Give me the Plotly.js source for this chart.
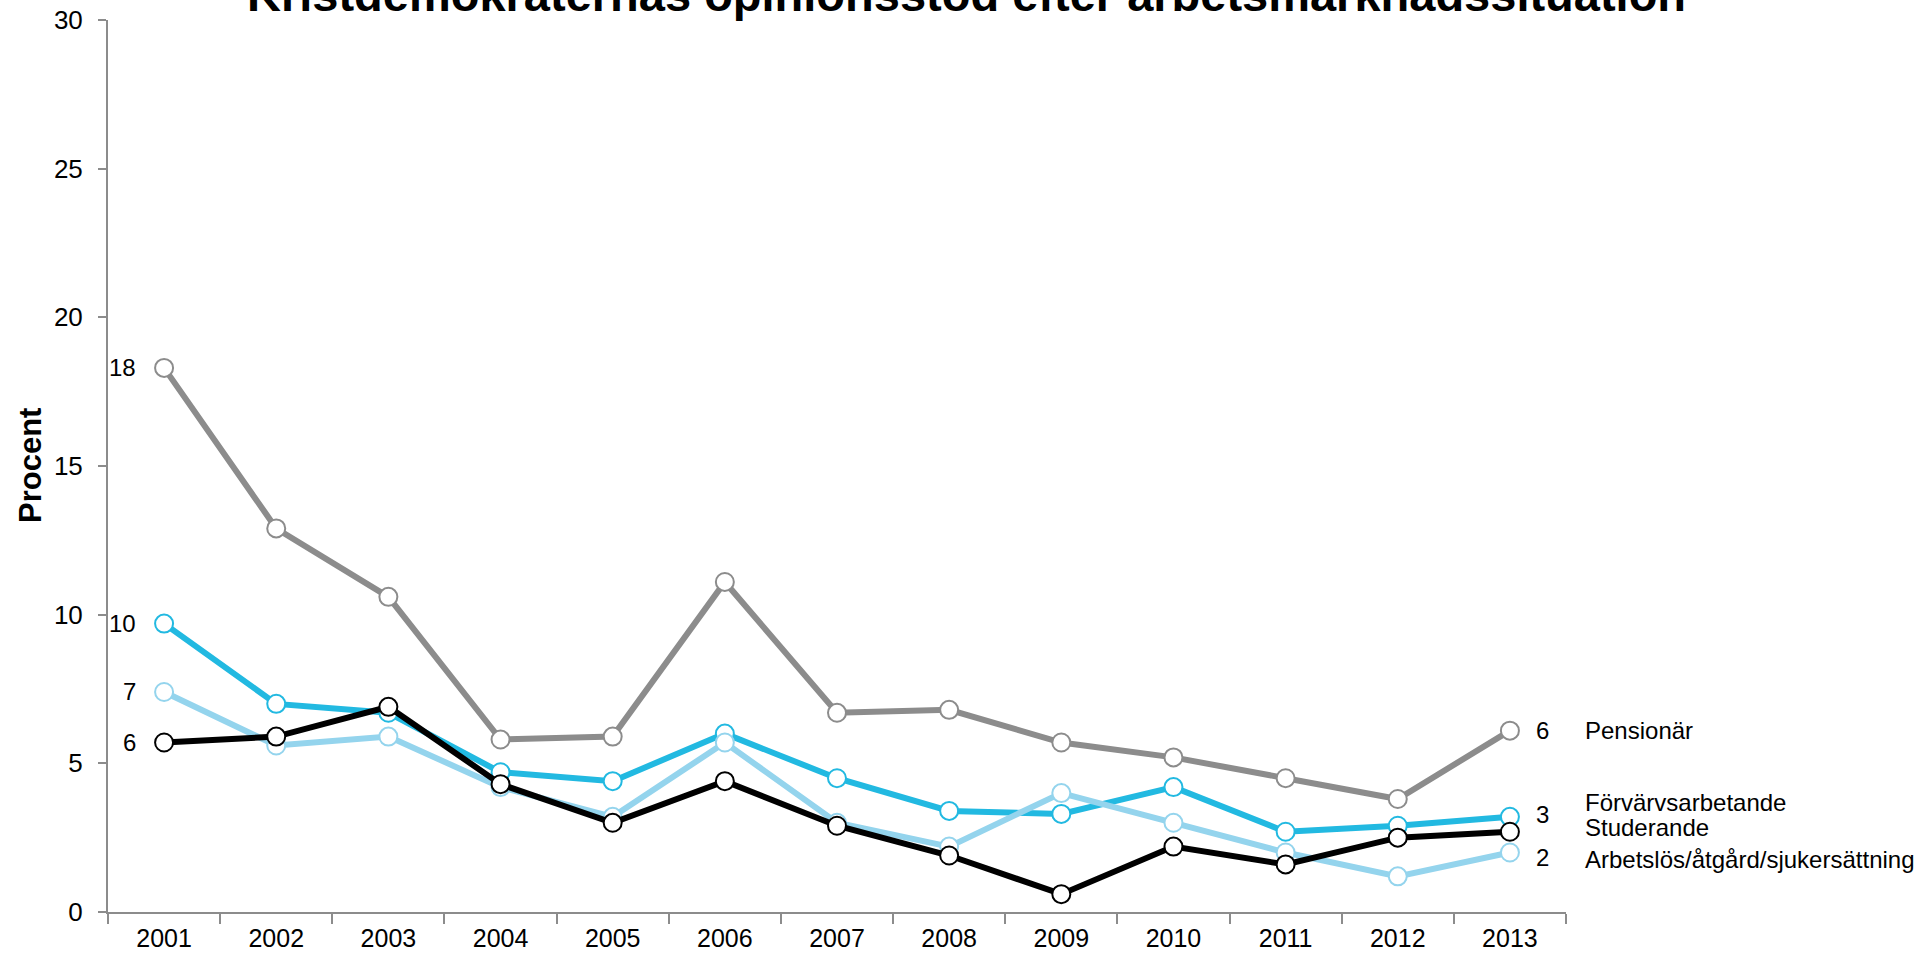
<!DOCTYPE html>
<html>
<head>
<meta charset="utf-8">
<script src="https://cdn.plot.ly/plotly-3.0.1.min.js"></script>
<style>html,body{margin:0;padding:0;background:#fff;}#chart{width:1932px;height:955px;}</style>
</head>
<body>
<div id="chart"></div>
<script>
const years = ["2001","2002","2003","2004","2005","2006","2007","2008","2009","2010","2011","2012","2013"];
const pensionar = [18.3, 12.9, 10.6, 5.8, 5.9, 11.1, 6.7, 6.8, 5.7, 5.2, 4.5, 3.8, 6.1];
const forvarvsarbetande = [9.7, 7.0, 6.7, 4.7, 4.4, 6.0, 4.5, 3.4, 3.3, 4.2, 2.7, 2.9, 3.2];
const arbetslos = [7.4, 5.6, 5.9, 4.2, 3.2, 5.7, 3.0, 2.2, 4.0, 3.0, 2.0, 1.2, 2.0];
const studerande = [5.7, 5.9, 6.9, 4.3, 3.0, 4.4, 2.9, 1.9, 0.6, 2.2, 1.6, 2.5, 2.7];
const seriesNames = ["Pensionär", "Förvärvsarbetande", "Arbetslös/åtgård/sjukersättning", "Studerande"];
const titleText = "Kristdemokraternas opinionsstöd efter arbetsmarknadssituation";
const yTitle = "Procent";

const FONT = '"Liberation Sans", Arial, sans-serif';
const colors = ["#8c8c8c", "#22b9e1", "#94d4ed", "#000000"];
const data = [pensionar, forvarvsarbetande, arbetslos, studerande];

const traces = data.map((vals, i) => ({
  type: 'scatter',
  mode: 'lines+markers',
  x: years,
  y: vals,
  name: seriesNames[i],
  line: {color: colors[i], width: 6},
  marker: {symbol: 'circle', size: 18, color: '#ffffff', line: {color: colors[i], width: 2}},
  hoverinfo: 'x+y+name'
}));

const last = years.length - 1;
const annotations = [];
// left value labels (first year)
data.forEach((vals) => {
  annotations.push({
    xref: 'x', yref: 'y', x: 0, y: vals[0],
    text: String(Math.round(vals[0])), showarrow: false,
    xanchor: 'right', yanchor: 'middle', xshift: -26,
    font: {family: FONT, size: 24, color: '#000'}
  });
});
// right value labels (last year)
[[0, 0], [1, 2], [2, -5]].forEach(([i, ys]) => {
  annotations.push({
    xref: 'x', yref: 'y', x: last, y: data[i][last],
    text: String(Math.round(data[i][last])), showarrow: false,
    xanchor: 'left', yanchor: 'middle', xshift: 24, yshift: ys,
    font: {family: FONT, size: 24, color: '#000'}
  });
});
// series names on the right
[[0, 0], [1, 14], [3, 4], [2, -7]].forEach(([i, ys]) => {
  annotations.push({
    xref: 'x', yref: 'y', x: last, y: data[i][last],
    text: seriesNames[i], showarrow: false,
    xanchor: 'left', yanchor: 'middle', xshift: 73, yshift: ys,
    font: {family: FONT, size: 24, color: '#000'}
  });
});
// title
annotations.push({
  xref: 'paper', yref: 'paper', x: (966 - 108) / (1566 - 108), y: 1,
  text: '<b>' + titleText + '</b>', showarrow: false,
  xanchor: 'center', yanchor: 'middle', yshift: 26,
  font: {family: FONT, size: 47, color: '#000'}
});
// y title
annotations.push({
  xref: 'paper', yref: 'paper', x: 0, y: 0.5,
  text: '<b>' + yTitle + '</b>', showarrow: false, textangle: -90,
  xanchor: 'center', yanchor: 'middle', xshift: -78,
  font: {family: FONT, size: 31, color: '#000'}
});

const layout = {
  width: 1932, height: 955,
  margin: {l: 108, r: 366, t: 20, b: 43, pad: 0},
  paper_bgcolor: '#ffffff', plot_bgcolor: '#ffffff',
  showlegend: false,
  font: {family: FONT, color: '#000'},
  xaxis: {
    type: 'category', range: [-0.5, 12.5],
    showline: true, linecolor: '#8c8c8c', linewidth: 2,
    ticks: 'outside', tickson: 'boundaries', ticklen: 10, tickwidth: 2, tickcolor: '#8c8c8c',
    showgrid: false, zeroline: false,
    tickfont: {family: FONT, size: 25, color: '#000'},
    ticklabelstandoff: 3
  },
  yaxis: {
    range: [0, 30], dtick: 5, tick0: 0,
    showline: true, linecolor: '#8c8c8c', linewidth: 2,
    ticks: 'outside', ticklen: 8, tickwidth: 2, tickcolor: '#8c8c8c',
    showgrid: false, zeroline: false,
    tickfont: {family: FONT, size: 26, color: '#000'},
    ticklabelstandoff: 10
  },
  annotations: annotations
};

Plotly.newPlot('chart', traces, layout, {displayModeBar: false, staticPlot: true});
</script>
</body>
</html>
